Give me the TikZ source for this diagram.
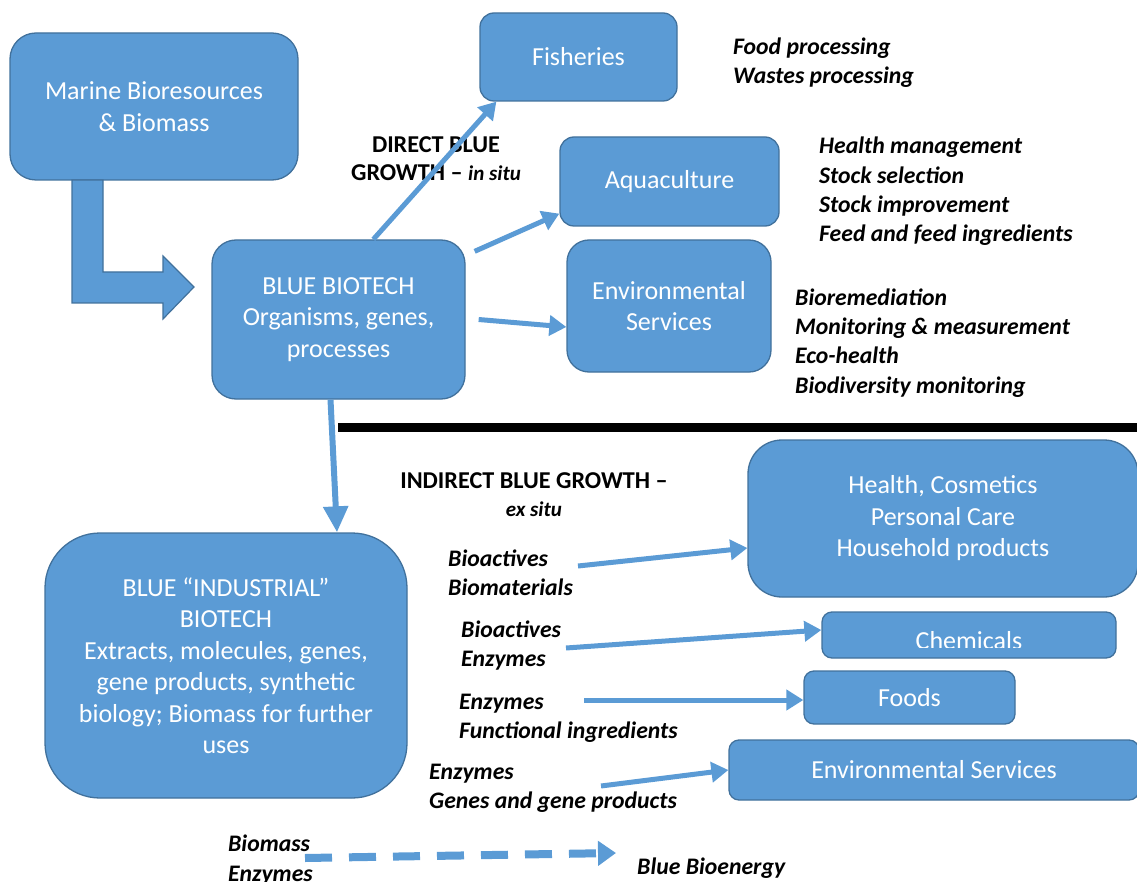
\documentclass[tikz,border=0pt]{standalone}
\usepackage{fontspec}
\setmainfont{Carlito}
\usetikzlibrary{arrows.meta,calc}
\definecolor{boxblue}{HTML}{5B9BD5}
\definecolor{boxedge}{HTML}{41719C}
\tikzset{
  bx/.style={draw=boxedge, line width=1.3pt, fill=boxblue, text=white, align=center,
    inner sep=0pt, font=\fontsize{26}{31.5}\selectfont},
  lbl/.style={anchor=west, align=left, inner sep=0pt, font=\fontsize{23.7}{29.3}\selectfont\bfseries\itshape},
  hdr/.style={align=center, inner sep=0pt, font=\fontsize{24.2}{28}\selectfont\bfseries},
  arr/.style={draw=boxblue, line width=5pt, -{Triangle[length=17pt,width=20pt]}},
}
\begin{document}
\begin{tikzpicture}[x=1pt,y=-1pt]
\useasboundingbox (0,0) rectangle (1137,882);
% boxes
\node[bx, rounded corners=26pt, minimum width=288pt, minimum height=147pt] (marine) at (154,106.5) {Marine Bioresources\\\& Biomass};
\node[bx, rounded corners=14pt, minimum width=197pt, minimum height=88pt] (fish) at (578.5,57) {Fisheries};
\node[bx, rounded corners=14pt, minimum width=219pt, minimum height=89pt] (aq) at (669.5,181.5) {Aquaculture};
\node[bx, rounded corners=22pt, minimum width=204pt, minimum height=132pt] (env) at (669,306) {Environmental\\Services};
\node[bx, rounded corners=24pt, minimum width=253pt, minimum height=159pt] (bb) at (338.5,319.5) {BLUE BIOTECH\\Organisms, genes,\\processes};
\node[bx, rounded corners=55pt, minimum width=362pt, minimum height=265pt] (ind) at (226,665.5) {BLUE “INDUSTRIAL”\\BIOTECH\\Extracts, molecules, genes,\\gene products, synthetic\\biology; Biomass for further\\uses};
\node[bx, rounded corners=34pt, minimum width=390pt, minimum height=157pt] (health) at (943,518.5) {Health, Cosmetics\\Personal Care\\Household products};
\node[bx, rounded corners=10pt, minimum width=294pt, minimum height=46pt] (chem) at (969,635) {};
\begin{scope}
\clip (822,612) rectangle (1116,647.5);
\node[text=white, inner sep=0pt, anchor=base, font=\fontsize{26}{31.5}\selectfont] (chemt) at (969,649.5) {Chemicals};
\end{scope}
\node[bx, rounded corners=10pt, minimum width=211pt, minimum height=53pt] (foods) at (909.5,697.5) {Foods};
\node[bx, rounded corners=10pt, minimum width=410pt, minimum height=60pt] (envb) at (934,770) {Environmental Services};

% big bent arrow
\draw[draw=boxedge, line width=1.2pt, fill=boxblue, line join=miter]
  (72,180) -- (103,180) -- (103,272) -- (163,272) -- (163,256) -- (194,287)
  -- (163,319) -- (163,303) -- (72,303) -- cycle;

% separator
\draw[line width=9pt] (338,427) -- (1137,427);

% labels
\node[lbl] (l1) at (733,63) {Food processing\\Wastes processing};
\node[lbl] (l2) at (819,191.5) {Health management\\Stock selection\\Stock improvement\\Feed and feed ingredients};
\node[lbl] (l3) at (795,343) {Bioremediation\\Monitoring \& measurement\\Eco-health\\Biodiversity monitoring};
\node[hdr] (h1) at (436,159) {DIRECT BLUE\\GROWTH – {\itshape\fontsize{21}{24}\selectfont in situ}};
\node[hdr] (h2) at (534,494.5) {INDIRECT BLUE GROWTH –\\{\itshape\fontsize{21}{24}\selectfont ex situ}};
\node[lbl] (b1) at (448,572.5) {Bioactives\\Biomaterials};
\node[lbl] (b2) at (461,645.5) {Bioactives\\Enzymes};
\node[lbl] (b3) at (459,718) {Enzymes\\Functional ingredients};
\node[lbl] (b4) at (429,788) {Enzymes\\Genes and gene products};
\node[lbl] (b5) at (228,860) {Biomass\\Enzymes};
\node[lbl] (be) at (637,868.5) {Blue Bioenergy};

% connectors (upper)
\draw[arr] ([xshift=162pt]bb.north west) -- ([xshift=17pt]fish.south west);
\draw[arr] ([shift={(9pt,-12pt)}]bb.north east) -- ([yshift=13pt]aq.south west);
\draw[arr] ([xshift=13pt]bb.east) -- ([yshift=-21pt]env.west);
\draw[draw=boxblue, line width=6pt, -{Triangle[length=26pt,width=24pt]}] ([xshift=-8pt]bb.south) -- ([xshift=111pt]ind.north);

% connectors (lower)
\coordinate (s1) at (578,566);
\coordinate (s2) at (566,648);
\coordinate (s3) at (584,700);
\coordinate (s4) at (601,786);
\coordinate (s5) at (305,858);
\coordinate (e5) at (616,853);
\draw[arr] (s1) -- ([yshift=-29.5pt]health.west);
\draw[arr] (s2) -- ([yshift=5pt]chem.west);
\draw[arr] (s3) -- ([yshift=-2.5pt]foods.west);
\draw[arr] (s4) -- (envb.west);
\draw[draw=boxblue, line width=8pt, dash pattern=on 27pt off 17pt, -{Triangle[length=18pt,width=24pt]}] (s5) -- (e5);
\end{tikzpicture}
\end{document}
